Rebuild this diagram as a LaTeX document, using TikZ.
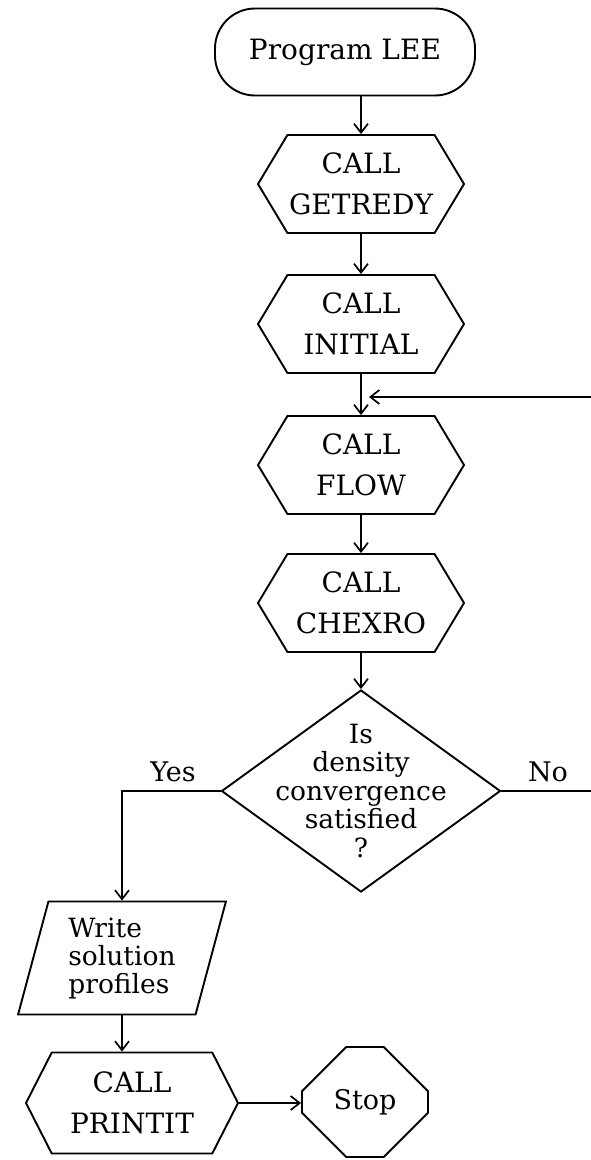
\documentclass[tikz,border=0pt]{standalone}
\usepackage{fontspec}
\setmainfont{DejaVu Serif}
\usetikzlibrary{shapes.geometric,shapes.symbols,shapes.misc,arrows.meta}
\tikzset{
  x=1pt, y=-1pt,
  every node/.style={font=\fontsize{28}{41}\selectfont},
  arr/.style={line width=1.9pt, -{Straight Barb[length=9pt,width=14pt,line width=1.7pt]}},
  termbox/.style={draw, line width=1.9pt, rounded corners=40pt, minimum width=260pt, minimum height=87pt},
  callbox/.style={draw, line width=1.9pt, signal, signal to=west and east, signal pointer angle=118,
    minimum width=206pt, minimum height=98pt, inner sep=0pt, align=center},
  testbox/.style={draw, line width=1.9pt, diamond, minimum width=279pt, minimum height=202pt, inner sep=0pt},
  iobox/.style={draw, line width=1.9pt, trapezium, trapezium left angle=75, trapezium right angle=105,
    trapezium stretches=true, minimum width=208pt, minimum height=113pt, align=left,
    font=\fontsize{26.5}{28}\selectfont},
  stopbox/.style={draw, line width=1.9pt, chamfered rectangle, chamfered rectangle xsep=35pt,
    chamfered rectangle ysep=32pt, minimum width=126pt, minimum height=110pt, inner sep=0pt,
    font=\fontsize{27}{30}\selectfont}
}
\begin{document}
\begin{tikzpicture}
    \useasboundingbox (0,0) rectangle (590,1160);
    % main chain
    \node[termbox] (start) at (345,52) {Program LEE};
    \node[callbox] (getredy) at (361,184) {CALL\\GETREDY};
    \node[callbox] (initial) at (361,324) {CALL\\INITIAL};
    \node[callbox] (flow) at (361,465) {CALL\\FLOW};
    \node[callbox] (chexro) at (361,603) {CALL\\CHEXRO};
    \node[testbox, label={[align=center, font=\fontsize{26.5}{28.5}\selectfont]center:Is\\density\\convergence\\satisfied\\?}] (dec) at (361,791) {};
    \node[iobox] (write) at (122,958) {Write\\solution\\profiles};
    \node[callbox, minimum width=212pt, minimum height=101pt, signal pointer angle=126] (printit) at (132,1103) {CALL\\PRINTIT};
    \node[stopbox] (stop) at (365,1102) {Stop};
    \node[font=\fontsize{27}{30}\selectfont] (yes) at (173,772) {Yes};
    \node[font=\fontsize{27}{30}\selectfont] (no) at (548,772) {No};
    \coordinate (back) at (369,397);

    \draw[arr] (getredy.north |- start.south) -- (getredy.north);
    \draw[arr] (getredy) -- (initial);
    \draw[arr] (initial) -- (flow);
    \draw[arr] (flow) -- (chexro);
    \draw[arr] (chexro) -- (dec);
    \draw[arr] (dec.east) -- ++(110,0) |- (back);
    \draw[arr] (dec.west) -| (write.north);
    \draw[arr] (write.south) -- (write.south |- printit.north);
    \draw[arr] (printit.east) -- (printit.east -| stop.west);
\end{tikzpicture}
\end{document}
